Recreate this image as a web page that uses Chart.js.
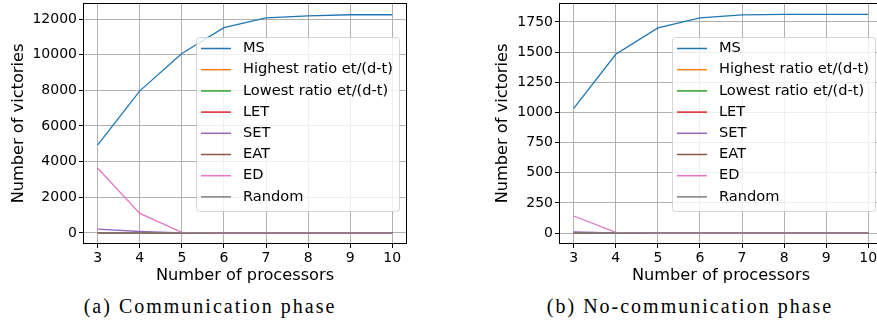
<!DOCTYPE html>
<html>
<head>
<meta charset="utf-8">
<script src="https://cdn.jsdelivr.net/npm/chart.js@4"></script>
<style>
  body { margin: 0; background: #fff; width: 877px; height: 324px; overflow: hidden; position: relative; }
  .panel { position: absolute; top: 0; height: 290px; overflow: hidden; }
  .cap { position: absolute; top: 296px; font-family: "Liberation Serif", serif; font-size: 20px;
         letter-spacing: 2px; line-height: 20px; color: #000; white-space: nowrap; transform: translateX(-50%); }
</style>
</head>
<body>
<div class="panel" style="left:0;width:440px"><canvas id="comm" width="440" height="290"></canvas></div>
<div class="panel" style="left:440px;width:437px"><canvas id="nocomm" width="460" height="290"></canvas></div>
<div class="cap" style="left:210px">(a) Communication phase</div>
<div class="cap" style="left:690px">(b) No-communication phase</div>
<script>
const processors = [3, 4, 5, 6, 7, 8, 9, 10];
const seriesNames = ["MS", "Highest ratio et/(d-t)", "Lowest ratio et/(d-t)", "LET", "SET", "EAT", "ED", "Random"];
const seriesColors = ["#1f77b4", "#ff7f0e", "#2ca02c", "#d62728", "#9467bd", "#8c564b", "#e377c2", "#7f7f7f"];

// (a) communication phase
const commMS      = [4940, 7970, 10070, 11520, 12070, 12180, 12240, 12240];
const commHighest = [0, 0, 0, 0, 0, 0, 0, 0];
const commLowest  = [0, 0, 0, 0, 0, 0, 0, 0];
const commLET     = [0, 0, 0, 0, 0, 0, 0, 0];
const commSET     = [210, 80, 0, 0, 0, 0, 0, 0];
const commEAT     = [0, 0, 0, 0, 0, 0, 0, 0];
const commED      = [3630, 1100, 30, 0, 0, 0, 0, 0];
const commRandom  = [0, 0, 0, 0, 0, 0, 0, 0];
const commTicks   = [0, 2000, 4000, 6000, 8000, 10000, 12000];

// (b) no-communication phase
const nocommMS      = [1034, 1482, 1700, 1783, 1808, 1813, 1813, 1813];
const nocommHighest = [0, 0, 0, 0, 0, 0, 0, 0];
const nocommLowest  = [0, 0, 0, 0, 0, 0, 0, 0];
const nocommLET     = [0, 0, 0, 0, 0, 0, 0, 0];
const nocommSET     = [10, 2, 0, 0, 0, 0, 0, 0];
const nocommEAT     = [0, 0, 0, 0, 0, 0, 0, 0];
const nocommED      = [141, 5, 0, 0, 0, 0, 0, 0];
const nocommRandom  = [0, 0, 0, 0, 0, 0, 0, 0];
const nocommTicks   = [0, 250, 500, 750, 1000, 1250, 1500, 1750];

const FONT = "DejaVu Sans";

// axes frame + matplotlib style legend
const frameLegend = {
  id: "frameLegend",
  afterDraw(chart) {
    const { ctx, chartArea: a } = chart;
    ctx.save();
    ctx.strokeStyle = "#000";
    ctx.lineWidth = 1;
    ctx.strokeRect(Math.round(a.left) + 0.5, Math.round(a.top) + 0.5,
      Math.round(a.right - a.left) - 1, Math.round(a.bottom - a.top) - 1);

    ctx.font = `14.6px "${FONT}"`;
    const tw = Math.max(...seriesNames.map((n) => ctx.measureText(n).width));
    const w = 47 + tw + 6, h = 174;
    const x = a.right - 8 - w, y = a.top + 34;
    ctx.globalAlpha = 0.8;
    ctx.fillStyle = "#fff";
    ctx.beginPath();
    ctx.roundRect(x + 0.5, y + 0.5, w, h, 3);
    ctx.fill();
    ctx.strokeStyle = "#cccccc";
    ctx.stroke();
    ctx.globalAlpha = 1;
    ctx.textBaseline = "middle";
    seriesNames.forEach((name, i) => {
      const cy = y + 11.5 + i * 21.2;
      ctx.strokeStyle = seriesColors[i];
      ctx.lineWidth = 1.5;
      ctx.beginPath();
      ctx.moveTo(x + 5, cy);
      ctx.lineTo(x + 35, cy);
      ctx.stroke();
      ctx.fillStyle = "#000";
      ctx.fillText(name, x + 47, cy);
    });
    ctx.restore();
  },
};

const makeChart = (id, series, yMin, yMax, yTicks, yWidth, yTitlePad, padRight) => {
  const datasets = series.map((vals, i) => ({
    label: seriesNames[i],
    data: processors.map((p, k) => ({ x: p, y: vals[k] })),
    borderColor: seriesColors[i],
    borderWidth: 1.3,
    pointRadius: 0,
    tension: 0,
    order: series.length - i,
  }));

  return new Chart(document.getElementById(id), {
    type: "line",
    data: { datasets },
    options: {
      responsive: false,
      animation: false,
      layout: { padding: { top: 3, right: padRight, left: 0, bottom: 0 } },
      plugins: { legend: { display: false }, tooltip: { enabled: false } },
      scales: {
        x: {
          type: "linear",
          min: 2.65,
          max: 10.35,
          afterBuildTicks: (s) => { s.ticks = processors.map((v) => ({ value: v })); },
          afterFit: (s) => { s.height = 46; s.paddingLeft = 0; s.paddingRight = 0; },
          grid: { color: "#b0b0b0", lineWidth: 1, tickColor: "#000", tickLength: 4 },
          border: { display: false },
          ticks: { color: "#000", font: { family: FONT, size: 14 }, padding: 2, maxRotation: 0,
                   autoSkip: false, callback: (v) => String(v) },
          title: { display: true, text: "Number of processors", color: "#000",
                   font: { family: FONT, size: 16.2 }, padding: { top: 0, bottom: 4 } },
        },
        y: {
          min: yMin,
          max: yMax,
          afterBuildTicks: (s) => { s.ticks = yTicks.map((v) => ({ value: v })); },
          afterFit: (s) => { s.width = yWidth; s.paddingTop = 0; s.paddingBottom = 0; },
          grid: { color: "#b0b0b0", lineWidth: 1, tickColor: "#000", tickLength: 4 },
          border: { display: false },
          ticks: { color: "#000", font: { family: FONT, size: 14 }, padding: 2, callback: (v) => String(v) },
          title: { display: true, text: "Number of victories", color: "#000",
                   font: { family: FONT, size: 16.2 }, padding: { top: yTitlePad, bottom: 0 } },
        },
      },
    },
    plugins: [frameLegend],
  });
};

makeChart("comm",
  [commMS, commHighest, commLowest, commLET, commSET, commEAT, commED, commRandom],
  -620, 12900, commTicks, 83, 9.5, 33);
makeChart("nocomm",
  [nocommMS, nocommHighest, nocommLowest, nocommLET, nocommSET, nocommEAT, nocommED, nocommRandom],
  -91, 1907, nocommTicks, 119, 53.5, 17);
</script>
</body>
</html>
